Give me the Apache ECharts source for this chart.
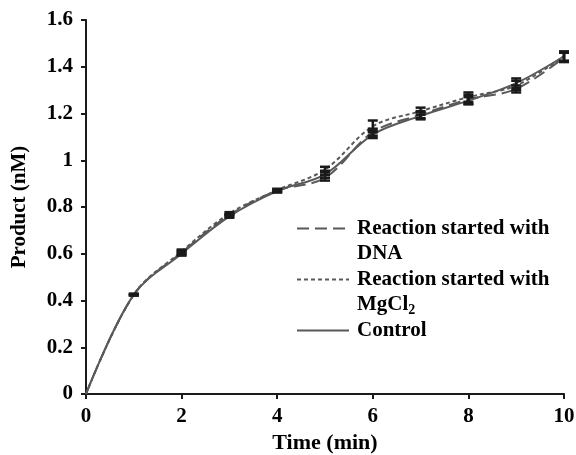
<!DOCTYPE html>
<html>
<head>
<meta charset="utf-8">
<script src="https://cdn.jsdelivr.net/npm/echarts@6/dist/echarts.min.js"></script>
<style>html,body{margin:0;padding:0;background:#fff}#c{width:576px;height:455px}</style>
</head>
<body>
<div id="c"></div>
<script>
var time = [0, 1, 2, 3, 4, 5, 6, 7, 8, 9, 10];
var dnaVals = [0, 0.425, 0.605, 0.765, 0.87, 0.925, 1.12, 1.195, 1.26, 1.305, 1.44];
var mgVals = [0, 0.425, 0.61, 0.772, 0.872, 0.96, 1.145, 1.21, 1.27, 1.32, 1.445];
var controlVals = [0, 0.425, 0.60, 0.76, 0.868, 0.94, 1.11, 1.19, 1.255, 1.33, 1.445];
var dnaErr = [0, 0.003, 0.008, 0.006, 0.006, 0.012, 0.015, 0.015, 0.02, 0.015, 0.02];
var mgErr = [0, 0.003, 0.008, 0.006, 0.006, 0.012, 0.025, 0.015, 0.02, 0.02, 0.02];
var controlErr = [0, 0.003, 0.008, 0.006, 0.006, 0.015, 0.015, 0.015, 0.015, 0.02, 0.02];
var seriesNames = ['Reaction started with DNA', 'Reaction started with MgCl2', 'Control'];
var xTicks = [0, 2, 4, 6, 8, 10];
var yTicks = [0, 0.2, 0.4, 0.6, 0.8, 1, 1.2, 1.4, 1.6];

var FONT = 'Liberation Serif';
var LINE = '#595959';

function pts(vals) { return time.map(function (t, i) { return [t, vals[i]]; }); }
function errPts(vals, errs) {
  var out = [];
  time.forEach(function (t, i) { if (errs[i] > 0) out.push([t, vals[i], errs[i]]); });
  return out;
}
function errRender(params, api) {
  var x = api.value(0), y = api.value(1), e = api.value(2);
  var top = api.coord([x, y + e]);
  var bot = api.coord([x, y - e]);
  var hw = 5;
  var st = { stroke: '#1a1a1a', lineWidth: 2.5 };
  return {
    type: 'group',
    children: [
      { type: 'line', shape: { x1: top[0], y1: top[1], x2: bot[0], y2: bot[1] }, style: st },
      { type: 'line', shape: { x1: top[0] - hw, y1: top[1], x2: top[0] + hw, y2: top[1] }, style: st },
      { type: 'line', shape: { x1: bot[0] - hw, y1: bot[1], x2: bot[0] + hw, y2: bot[1] }, style: st }
    ]
  };
}
function errSeries(vals, errs) {
  return { type: 'custom', renderItem: errRender, data: errPts(vals, errs), z: 5, silent: true };
}
function lineSeries(name, vals, dash) {
  return {
    name: name, type: 'line', data: pts(vals), smooth: 0.35, symbol: 'none', showSymbol: false,
    lineStyle: { color: LINE, width: 2, type: dash }, itemStyle: { color: LINE }, z: 3
  };
}

var chart = echarts.init(document.getElementById('c'));
chart.setOption({
  animation: false,
  backgroundColor: '#fff',
  grid: { left: 86, right: 12, top: 20, bottom: 61, outerBoundsMode: 'none' },
  legend: {
    orient: 'vertical', left: 296, top: 191, padding: 0,
    itemWidth: 52, itemHeight: 14, itemGap: -24,
    itemStyle: { opacity: 0 },
    textStyle: {
      fontFamily: FONT, fontWeight: 'bold', fontSize: 21, color: '#000', lineHeight: 25,
      rich: {
        e: { fontFamily: FONT, fontSize: 21, lineHeight: 25, padding: [0, 0, 0, 3] },
        t: { fontFamily: FONT, fontWeight: 'bold', fontSize: 21, color: '#000', lineHeight: 25, padding: [0, 0, 0, 3] },
        s: { fontFamily: FONT, fontWeight: 'bold', fontSize: 14, color: '#000', lineHeight: 17, verticalAlign: 'bottom' }
      }
    },
    data: seriesNames,
    formatter: function (n) {
      if (n === seriesNames[0]) return '{e| }\n{t|Reaction started with}\n{t|DNA}';
      if (n === seriesNames[1]) return '{e| }\n{t|Reaction started with}\n{t|MgCl}{s|2}';
      return '{e| }\n{t|Control}\n{e| }';
    }
  },
  xAxis: {
    type: 'value', min: 0, max: 10, interval: 2,
    name: 'Time (min)', nameLocation: 'middle', nameGap: 36,
    nameTextStyle: { fontFamily: FONT, fontWeight: 'bold', fontSize: 22, color: '#000' },
    axisLine: { show: true, lineStyle: { color: '#1a1a1a', width: 2 } },
    axisTick: { show: true, inside: false, length: 5, lineStyle: { color: '#1a1a1a', width: 2 } },
    axisLabel: { margin: 12, fontFamily: FONT, fontWeight: 'bold', fontSize: 21, color: '#000',
      formatter: function (v) { return xTicks.indexOf(v) >= 0 ? String(v) : ''; } },
    splitLine: { show: false }
  },
  yAxis: {
    type: 'value', min: 0, max: 1.6, interval: 0.2,
    name: 'Product (nM)', nameLocation: 'middle', nameGap: 56, nameRotate: 90,
    nameTextStyle: { fontFamily: FONT, fontWeight: 'bold', fontSize: 21, color: '#000' },
    axisLine: { show: true, lineStyle: { color: '#1a1a1a', width: 2 } },
    axisTick: { show: true, inside: false, length: 5, lineStyle: { color: '#1a1a1a', width: 2 } },
    axisLabel: { margin: 13, fontFamily: FONT, fontWeight: 'bold', fontSize: 21, color: '#000',
      formatter: function (v) {
        var r = Math.round(v * 10) / 10;
        return yTicks.indexOf(r) >= 0 ? String(r) : '';
      } },
    splitLine: { show: false }
  },
  series: [
    lineSeries(seriesNames[0], dnaVals, [12, 6]),
    lineSeries(seriesNames[1], mgVals, [4, 3]),
    lineSeries(seriesNames[2], controlVals, 'solid'),
    errSeries(dnaVals, dnaErr),
    errSeries(mgVals, mgErr),
    errSeries(controlVals, controlErr)
  ]
});
</script>
</body>
</html>
